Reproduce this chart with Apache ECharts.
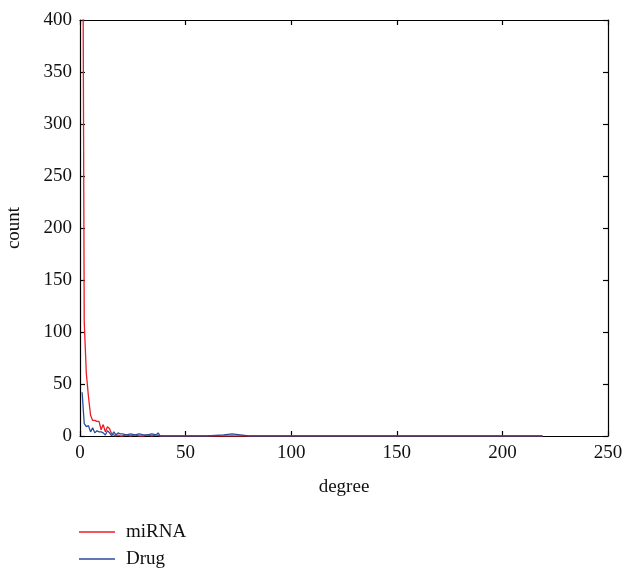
<!DOCTYPE html>
<html>
<head>
<meta charset="utf-8">
<script src="https://cdn.jsdelivr.net/npm/echarts@6/dist/echarts.min.js"></script>
<style>
  html, body { margin: 0; padding: 0; background: #fff; }
  #chart { width: 625px; height: 569px; }
</style>
</head>
<body>
<div id="chart"></div>
<script>
// Degree distributions: count of nodes at each degree
const mirnaDegree = [1, 2, 3, 4, 5, 6, 7, 8, 9, 10, 11, 12, 13, 14, 15, 16, 17, 18, 19, 20, 22, 24, 26, 28, 30, 32, 34, 36, 38, 219];
const mirnaCount  = [700, 110, 60, 38, 20, 15, 15, 14, 14, 6, 11, 4, 9, 7, 2, 1, 0, 1, 0, 0, 1, 0, 1, 0, 0, 1, 0, 1, 0, 0];

const drugDegree = [1, 2, 3, 4, 5, 6, 7, 8, 9, 10, 11, 12, 13, 14, 15, 16, 17, 18, 19, 20, 22, 24, 26, 28, 30, 32, 34, 36, 37, 38, 45, 60, 68, 72, 76, 80, 219];
const drugCount  = [42, 12, 9, 10, 4, 8, 3, 5, 4, 4, 3, 1, 5, 3, 0, 4, 1, 3, 2, 2, 1, 2, 1, 2, 1, 1, 2, 1, 3, 0, 0, 0, 1, 2, 1, 0, 0];

const seriesNames = ['miRNA', 'Drug'];
const xTicks = [0, 50, 100, 150, 200, 250];
const yTicks = [0, 50, 100, 150, 200, 250, 300, 350, 400];

const FONT = 'Liberation Serif';
const FS = 19;

function pairs(xs, ys) {
  return xs.map((x, i) => [x, ys[i]]);
}

// One single-entry legend per series, stacked vertically
function legendFor(name, top) {
  return {
    type: 'plain',
    orient: 'vertical',
    left: 79,
    top: top,
    padding: 0,
    icon: 'rect',
    itemWidth: 36,
    itemHeight: 1.4,
    textStyle: { fontFamily: FONT, fontSize: FS, lineHeight: 20, color: '#111', padding: [0, 0, 0, 6] },
    data: [name]
  };
}

const chart = echarts.init(document.getElementById('chart'), null, { renderer: 'canvas' });

const axisLine = { show: true, onZero: false, lineStyle: { color: '#000', width: 1.2 } };
const axisTick = { show: true, inside: true, length: 5, lineStyle: { color: '#000', width: 1.2 } };

chart.setOption({
  animation: false,
  backgroundColor: '#fff',
  grid: { left: 80, right: 17, top: 20, bottom: 133, containLabel: false, outerBoundsMode: 'none' },
  legend: [legendFor(seriesNames[0], 522), legendFor(seriesNames[1], 549)],
  xAxis: [
    {
      type: 'value', position: 'bottom',
      min: xTicks[0], max: xTicks[xTicks.length - 1], interval: 50,
      name: 'degree', nameLocation: 'middle', nameGap: 42,
      nameTextStyle: { fontFamily: FONT, fontSize: FS, color: '#111' },
      axisLine, axisTick,
      axisLabel: { fontFamily: FONT, fontSize: FS, color: '#111', margin: 8 },
      splitLine: { show: false }
    },
    {
      type: 'value', position: 'top',
      min: xTicks[0], max: xTicks[xTicks.length - 1], interval: 50,
      axisLine, axisTick, axisLabel: { show: false }, splitLine: { show: false }
    }
  ],
  yAxis: [
    {
      type: 'value', position: 'left',
      min: yTicks[0], max: yTicks[yTicks.length - 1], interval: 50,
      name: 'count', nameLocation: 'middle', nameGap: 56,
      nameTextStyle: { fontFamily: FONT, fontSize: FS, color: '#111' },
      axisLine, axisTick,
      axisLabel: { fontFamily: FONT, fontSize: FS, color: '#111', margin: 8 },
      splitLine: { show: false }
    },
    {
      type: 'value', position: 'right',
      min: yTicks[0], max: yTicks[yTicks.length - 1], interval: 50,
      axisLine, axisTick, axisLabel: { show: false }, splitLine: { show: false }
    }
  ],
  series: [
    {
      name: seriesNames[0], type: 'line',
      data: pairs(mirnaDegree, mirnaCount),
      showSymbol: false, symbol: 'none', clip: true,
      lineStyle: { color: '#ee1c24', width: 1.3 },
      itemStyle: { color: '#ee1c24' },
      z: 2
    },
    {
      name: seriesNames[1], type: 'line',
      data: pairs(drugDegree, drugCount),
      showSymbol: false, symbol: 'none', clip: true,
      lineStyle: { color: '#2b4c9b', width: 1.3 },
      itemStyle: { color: '#2b4c9b' },
      z: 3
    }
  ]
});
</script>
</body>
</html>
